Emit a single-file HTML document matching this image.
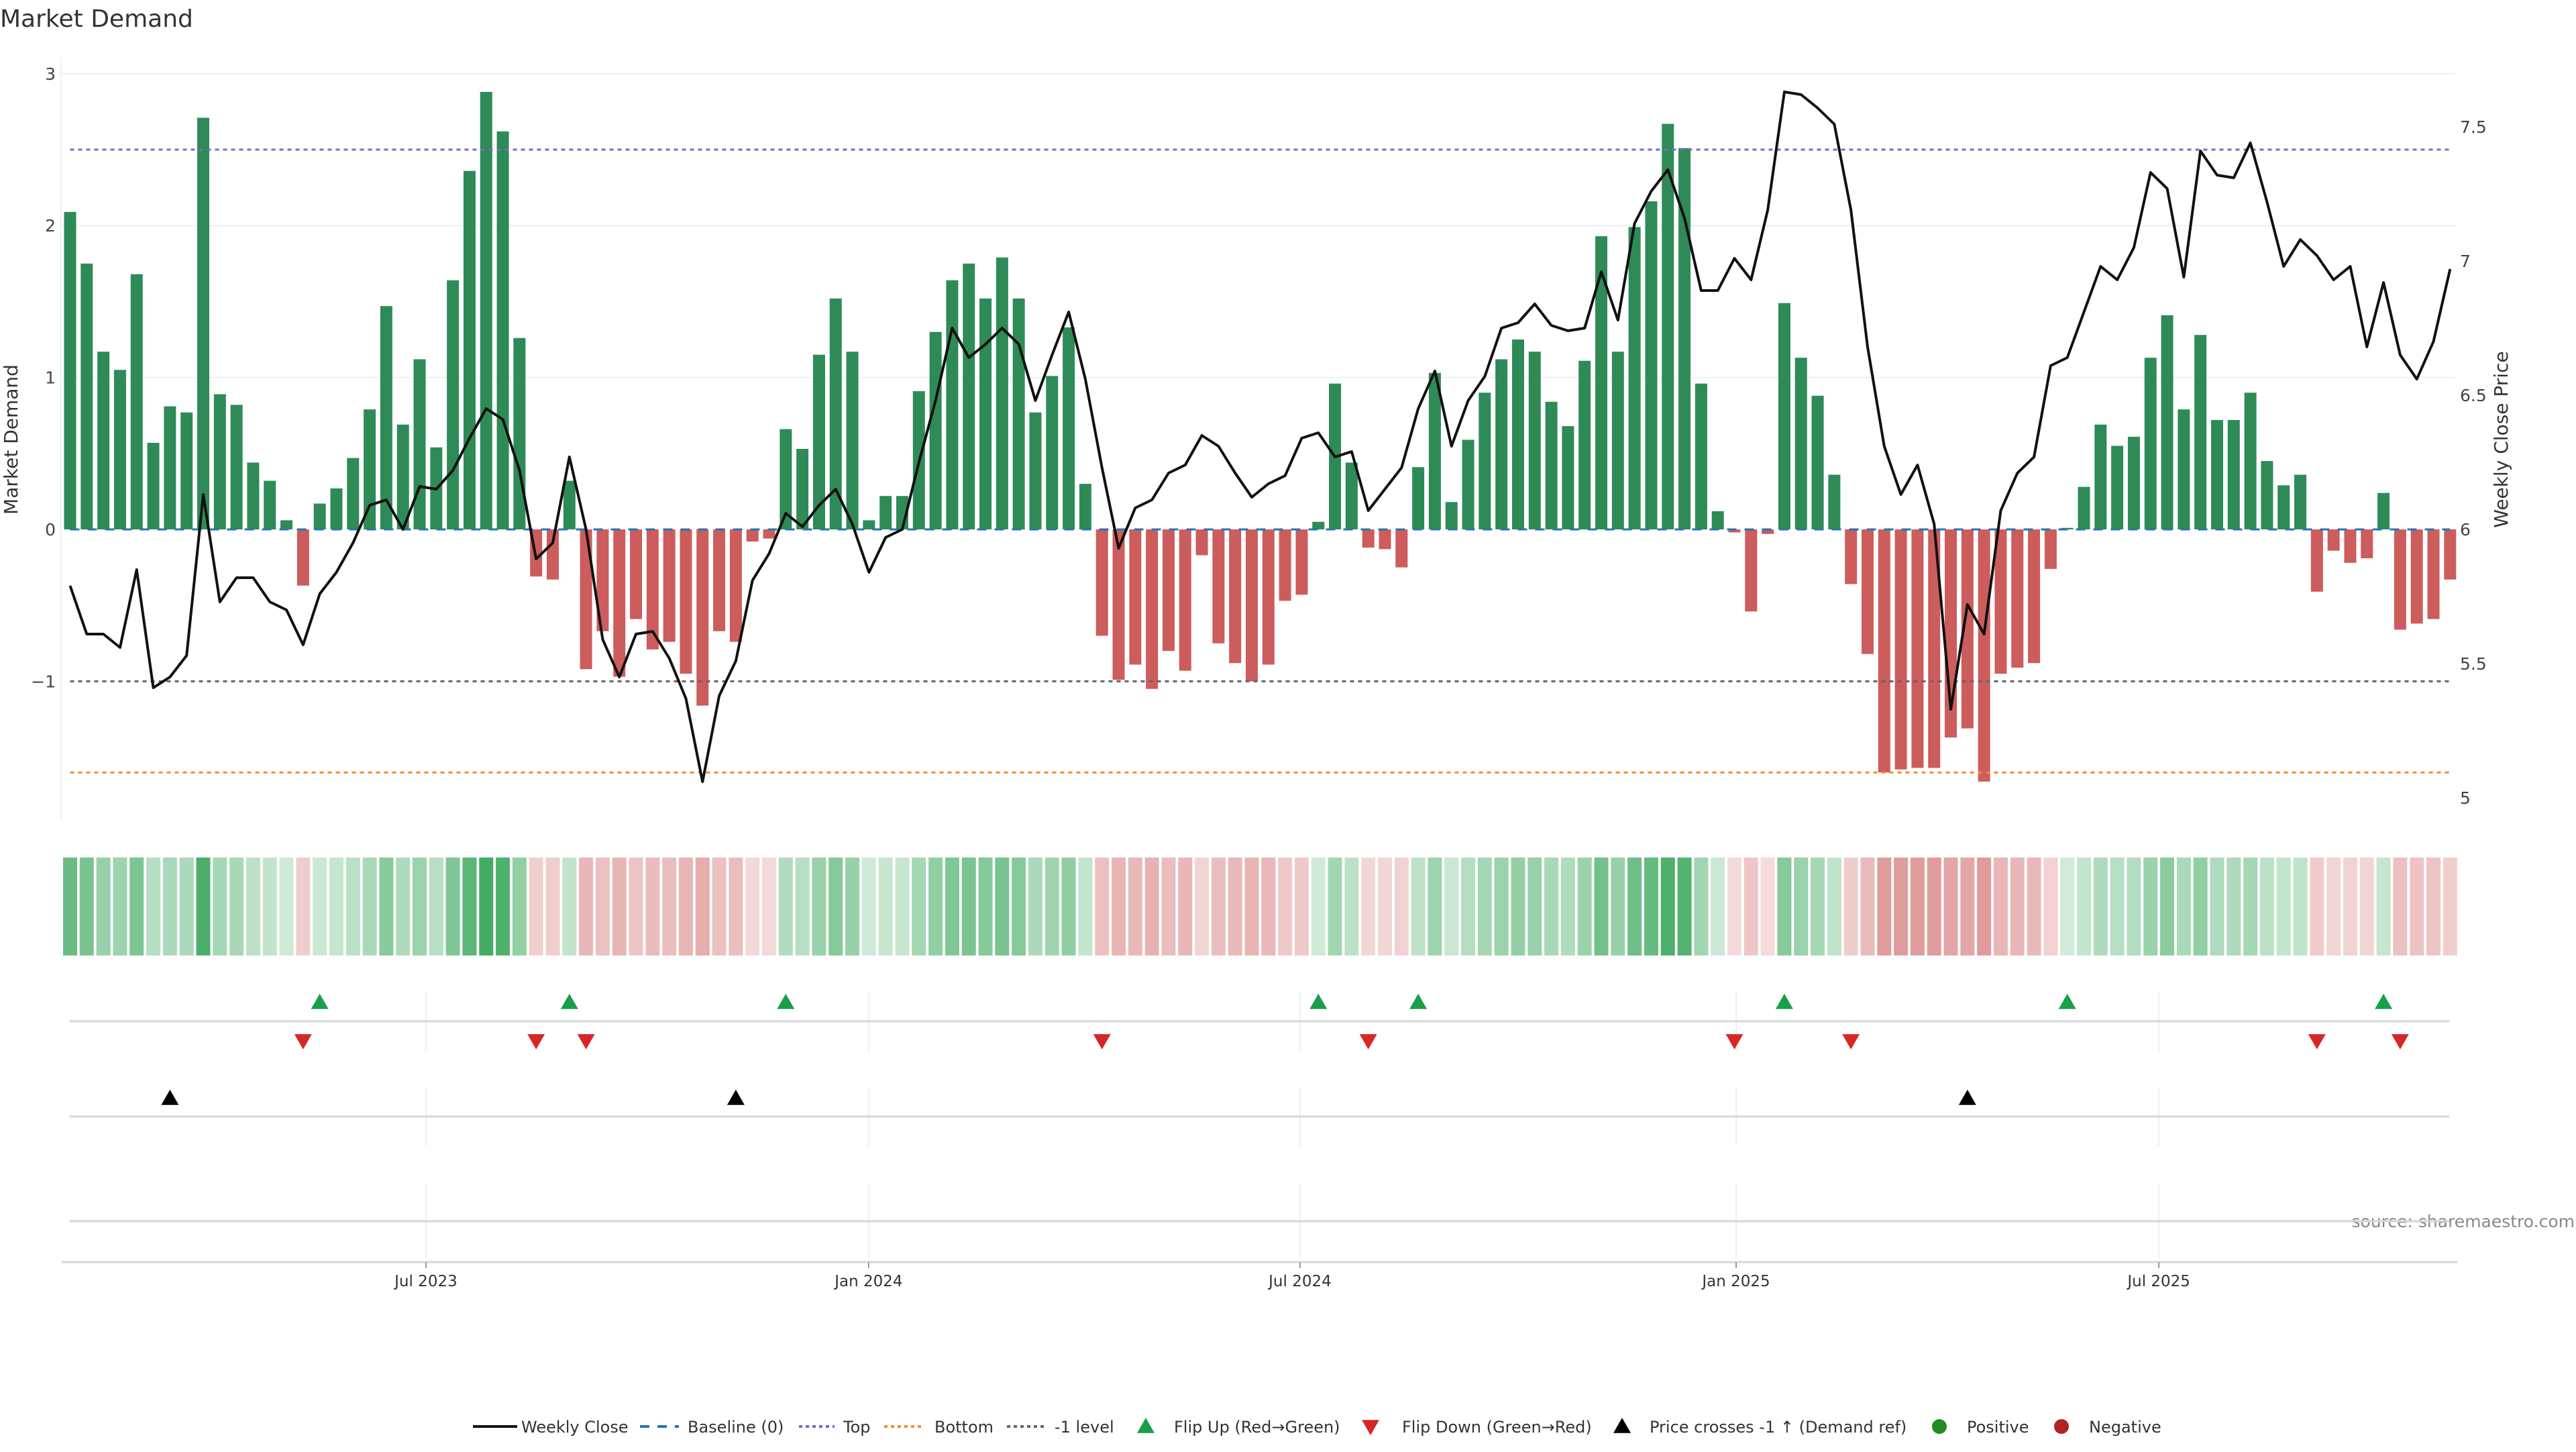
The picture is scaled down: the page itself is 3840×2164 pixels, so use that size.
<!DOCTYPE html>
<html><head><meta charset="utf-8">
<style>
html,body{margin:0;padding:0;background:#fff;}
body{width:3840px;height:2160px;overflow:hidden;font-family:"DejaVu Sans","Liberation Sans",sans-serif;}
svg text{font-family:"DejaVu Sans","Liberation Sans",sans-serif;}
</style></head>
<body>
<svg id="chart" width="3840" height="2160" viewBox="0 0 3840 2160" xmlns="http://www.w3.org/2000/svg">
<text x="0" y="40" font-size="36" fill="#333">Market Demand</text>
<text transform="translate(26,655) rotate(-90)" text-anchor="middle" font-size="28" fill="#333">Market Demand</text>
<text transform="translate(3738,655) rotate(-90)" text-anchor="middle" font-size="28" fill="#333">Weekly Close Price</text>
<text x="3838" y="1829" text-anchor="end" font-size="25" fill="#888">source: sharemaestro.com</text>
<g id="legend"></g>
</svg>
<script>
const demand=[2.09,1.75,1.17,1.05,1.68,0.57,0.81,0.77,2.71,0.89,0.82,0.44,0.32,0.06,-0.37,0.17,0.27,0.47,0.79,1.47,0.69,1.12,0.54,1.64,2.36,2.88,2.62,1.26,-0.31,-0.33,0.32,-0.92,-0.67,-0.97,-0.59,-0.79,-0.74,-0.95,-1.16,-0.67,-0.74,-0.08,-0.06,0.66,0.53,1.15,1.52,1.17,0.06,0.22,0.22,0.91,1.30,1.64,1.75,1.52,1.79,1.52,0.77,1.01,1.33,0.30,-0.70,-0.99,-0.89,-1.05,-0.80,-0.93,-0.17,-0.75,-0.88,-1.00,-0.89,-0.47,-0.43,0.05,0.96,0.44,-0.12,-0.13,-0.25,0.41,1.03,0.18,0.59,0.90,1.12,1.25,1.17,0.84,0.68,1.11,1.93,1.17,1.99,2.16,2.67,2.51,0.96,0.12,-0.02,-0.54,-0.03,1.49,1.13,0.88,0.36,-0.36,-0.82,-1.60,-1.58,-1.57,-1.57,-1.37,-1.31,-1.66,-0.95,-0.91,-0.88,-0.26,0.01,0.28,0.69,0.55,0.61,1.13,1.41,0.79,1.28,0.72,0.72,0.90,0.45,0.29,0.36,-0.41,-0.14,-0.22,-0.19,0.24,-0.66,-0.62,-0.59,-0.33];
const price=[5.79,5.61,5.61,5.56,5.85,5.41,5.45,5.53,6.13,5.73,5.82,5.82,5.73,5.70,5.57,5.76,5.84,5.95,6.09,6.11,6.00,6.16,6.15,6.22,6.34,6.45,6.41,6.22,5.89,5.95,6.27,6.00,5.59,5.45,5.61,5.62,5.52,5.37,5.06,5.38,5.51,5.81,5.91,6.06,6.01,6.09,6.15,6.02,5.84,5.97,6.00,6.25,6.48,6.75,6.64,6.69,6.75,6.69,6.48,6.65,6.81,6.56,6.23,5.93,6.08,6.11,6.21,6.24,6.35,6.31,6.21,6.12,6.17,6.20,6.34,6.36,6.27,6.29,6.07,6.15,6.23,6.45,6.59,6.31,6.48,6.57,6.75,6.77,6.84,6.76,6.74,6.75,6.96,6.78,7.14,7.26,7.34,7.16,6.89,6.89,7.01,6.93,7.19,7.63,7.62,7.57,7.51,7.19,6.68,6.31,6.13,6.24,6.02,5.33,5.72,5.61,6.07,6.21,6.27,6.61,6.64,6.81,6.98,6.93,7.05,7.33,7.27,6.94,7.41,7.32,7.31,7.44,7.22,6.98,7.08,7.02,6.93,6.98,6.68,6.92,6.65,6.56,6.70,6.97];
const priceCrossIdx=[6,40,114];
const leftTicks=[-1,0,1,2,3];
const leftTickLabels=["\u22121","0","1","2","3"];
const rightTicks=[5,5.5,6,6.5,7,7.5];
const rightTickLabels=["5","5.5","6","6.5","7","7.5"];
const dateTickPos=[21.38,47.98,73.9,100.1,125.5];
const dateTickLabels=["Jul 2023","Jan 2024","Jul 2024","Jan 2025","Jul 2025"];
const levels={top:2.5,bottom:-1.6,minus1:-1};

const NS="http://www.w3.org/2000/svg";
const svg=document.getElementById('chart');
function el(tag,attrs,parent){const e=document.createElementNS(NS,tag);for(const k in attrs)e.setAttribute(k,attrs[k]);(parent||svg).appendChild(e);return e;}
const X0=104.5,DX=24.81;
const xOf=i=>X0+DX*i;
const yD=v=>789-v*226.4;
const yP=p=>789-(p-6)*400;
const xFirst=xOf(0),xLast=xOf(demand.length-1);

// grid
leftTicks.forEach((t,k)=>{
  if(t>0){const g=el('line',{x1:91,x2:3660,y1:yD(t),y2:yD(t),stroke:'#eef0f3','stroke-width':2});
  
  }
  const tx=el('text',{x:83,y:yD(t)+9,'text-anchor':'end','font-size':25,fill:'#444'});
  
  
  tx.textContent=leftTickLabels[k];
});
rightTicks.forEach((t,k)=>{
  const tx=el('text',{x:3667,y:yP(t)+9,'font-size':25,fill:'#444'});
  
  
  tx.textContent=rightTickLabels[k];
});
const ax=el('line',{x1:91,x2:91,y1:85,y2:1223,stroke:'#eef0f3','stroke-width':2});



// bars
demand.forEach((v,i)=>{
  const y0=yD(0),y1=yD(v);
  const r=el('rect',{x:xOf(i)-9,y:Math.min(y0,y1),width:18,height:Math.max(0.5,Math.abs(y1-y0)),fill:v>=0?'#2e8b57':'#cd5c5c'});
  
  
});
// reference lines
function hline(y,color,dash,name){const l=el('line',{x1:xFirst,x2:xLast,y1:y,y2:y,stroke:color,'stroke-width':3,'stroke-dasharray':dash});

}
hline(yD(0),'#1f77b4','14 12','baseline-zero');
hline(yD(levels.top),'#7b68c8','6 6','top-level-line');
hline(yD(levels.bottom),'#f28e2b','6 6','bottom-level-line');
hline(yD(levels.minus1),'#666','6 6','minus-one-level-line');
// price line
const pl=el('polyline',{points:price.map((p,i)=>xOf(i)+','+yP(p)).join(' '),fill:'none',stroke:'#111','stroke-width':4,'stroke-linejoin':'round'});



// heat strip
demand.forEach((v,i)=>{
  const a=0.22+0.7*Math.min(1,Math.abs(v)/2.9);
  const r=el('rect',{x:xOf(i)-10.5,y:1278,width:21,height:146,fill:v>=0?'rgb(49,163,84)':'rgb(205,92,92)','fill-opacity':a.toFixed(3)});
  
  
});
// panel lines
[[1478,1567],[1620,1708],[1763,1875]].forEach(([a,b])=>{
  dateTickPos.forEach(t=>{const g=el('line',{x1:xOf(t),x2:xOf(t),y1:a,y2:b,stroke:'#eef0f3','stroke-width':2});
  
  });
});
[1522,1664,1820].forEach(y=>{const l=el('line',{x1:104,x2:3651,y1:y,y2:y,stroke:'#d6d6d6','stroke-width':3});

});
const xa=el('line',{x1:92,x2:3663,y1:1881,y2:1881,stroke:'#d6d6d6','stroke-width':3});


dateTickPos.forEach((t,k)=>{
  const tk=el('line',{x1:xOf(t),x2:xOf(t),y1:1881,y2:1890,stroke:'#999','stroke-width':2});
  
  
  const tx=el('text',{x:xOf(t),y:1917,'text-anchor':'middle','font-size':23,fill:'#333'});
  
  
  tx.textContent=dateTickLabels[k];
});
// flip markers
function tri(cx,cy,up,color,name){
  const s=13;
  const pts=up?[[cx,cy-s],[cx+s,cy+s*0.75],[cx-s,cy+s*0.75]]:[[cx,cy+s],[cx+s,cy-s*0.75],[cx-s,cy-s*0.75]];
  const p=el('polygon',{points:pts.map(q=>q.join(',')).join(' '),fill:color});
  
  
}
for(let i=1;i<demand.length;i++){
  if(demand[i-1]<0&&demand[i]>=0)tri(xOf(i),1494,true,'#1a9e4a','flip-up-marker');
  if(demand[i-1]>=0&&demand[i]<0)tri(xOf(i),1551,false,'#d62728','flip-down-marker');
}
priceCrossIdx.forEach(i=>tri(xOf(i),1637,true,'#000','price-cross-marker'));

// legend
const lg=document.getElementById('legend');
const LY=2126;
function ltext(x,t){const e=el('text',{x:x,y:LY+9,'font-size':24,fill:'#333'},lg);


e.textContent=t;}
function lline(x1,x2,c,d,w){const e=el('line',{x1:x1,x2:x2,y1:LY,y2:LY,stroke:c,'stroke-width':w||4,'stroke-dasharray':d||'none'},lg);

}
lline(705,771,'#111','',4);ltext(777,'Weekly Close');
lline(954,1012,'#1f77b4','14 12',4);ltext(1025,'Baseline (0)');
lline(1191,1244,'#7b68c8','5 5',4);ltext(1257,'Top');
lline(1318,1377,'#f28e2b','5 5',4);ltext(1393,'Bottom');
lline(1501,1559,'#666','5 5',4);ltext(1572,'-1 level');
tri(1708,LY,true,'#1a9e4a','legend-flip-up');ltext(1750,'Flip Up (Red\u2192Green)');
tri(2043,LY,false,'#d62728','legend-flip-down');ltext(2090,'Flip Down (Green\u2192Red)');
tri(2418,LY,true,'#000','legend-price-cross');ltext(2459,'Price crosses -1 \u2191 (Demand ref)');
const c1=el('circle',{cx:2891,cy:LY,r:11,fill:'#228b22'},lg);


ltext(2932,'Positive');
const c2=el('circle',{cx:3073,cy:LY,r:11,fill:'#b22222'},lg);


ltext(3114,'Negative');
</script>
</body></html>
